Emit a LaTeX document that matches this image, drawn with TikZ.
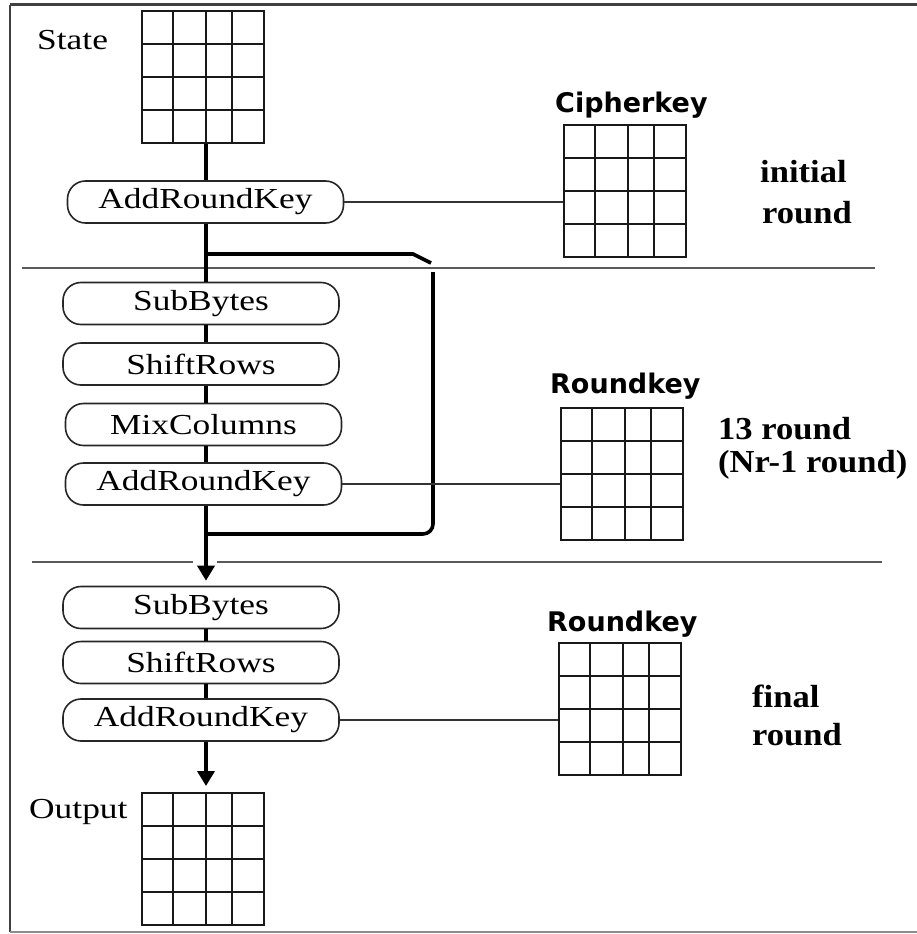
\documentclass[tikz,border=0pt]{standalone}
\usepackage{fontspec}
\usetikzlibrary{calc,arrows.meta}
\newfontfamily\opfont[FakeStretch=1.22]{Liberation Serif}
\newfontfamily\roundfont[FakeStretch=1.08]{Liberation Serif}
\newfontfamily\keyfont{DejaVu Sans}

\tikzset{
  opbox/.style={draw=black!85, line width=1.6pt, rounded corners=18pt,
    minimum width=276pt, minimum height=42pt, inner sep=0pt,
    font=\opfont\fontsize{29pt}{32pt}\selectfont},
  bytegrid/.style={draw=black!90, line width=2pt, minimum width=122pt,
    minimum height=132pt, inner sep=0pt,
    path picture={
      \foreach \f in {0.26,0.525,0.745}{
        \draw[line width=2pt, black!90]
          ($(path picture bounding box.north west)!\f!(path picture bounding box.north east)$) --
          ($(path picture bounding box.south west)!\f!(path picture bounding box.south east)$);
      }
      \foreach \f in {0.25,0.5,0.75}{
        \draw[line width=2pt, black!90]
          ($(path picture bounding box.north west)!\f!(path picture bounding box.south west)$) --
          ($(path picture bounding box.north east)!\f!(path picture bounding box.south east)$);
      }
    }},
  plainlabel/.style={inner sep=0pt, anchor=base west,
    font=\opfont\fontsize{29pt}{32pt}\selectfont},
  keylabel/.style={inner sep=0pt, anchor=base west,
    font=\keyfont\bfseries\fontsize{27pt}{30pt}\selectfont},
  roundlabel/.style={inner sep=0pt, anchor=base west,
    font=\roundfont\bfseries\fontsize{32pt}{36pt}\selectfont},
  flow/.style={line width=3.6pt, black},
  flowarrow/.style={flow, -{Triangle[length=15pt,width=17pt]}},
  backline/.style={line width=3.6pt, black},
  keyline/.style={line width=1.6pt, black!80},
  separator/.style={line width=2.2pt, black!65},
}

\begin{document}
\begin{tikzpicture}[x=1pt,y=-1pt]
\useasboundingbox (0,0) rectangle (917,934);

% outer frame (top, left, bottom)
\draw[line width=3pt, black!75] (10,5) -- (917,5);
\draw[line width=2.5pt, black!75] (10,5) -- (10,932);
\draw[line width=2pt, black!45] (10,932) -- (917,932);

% round separators
\draw[separator] (22,268) -- (875,268);
\draw[separator] (32,562) -- (193,562);
\draw[separator] (217,562) -- (882,562);

% state matrices and key matrices
\node[bytegrid] (state) at (202.5,77) {};
\node[bytegrid] (ck) at (624.5,191) {};
\node[bytegrid] (rk1) at (621.5,473.5) {};
\node[bytegrid] (rk2) at (619.5,709) {};
\node[bytegrid] (out) at (202.5,859) {};

% operation boxes
\node[opbox] (ark0) at (205.5,202) {AddRoundKey};
\node[opbox] (sb1) at (201,303.5) {SubBytes};
\node[opbox] (sr1) at (201,364) {ShiftRows};
\node[opbox] (mc1) at (203.5,424.5) {MixColumns};
\node[opbox] (ark1) at (203.5,484) {AddRoundKey};
\node[opbox] (sb2) at (201,607.5) {SubBytes};
\node[opbox] (sr2) at (201,662.5) {ShiftRows};
\node[opbox] (ark2) at (201,720) {AddRoundKey};

% labels
\node[plainlabel] (lstate) at (37,49) {State};
\node[plainlabel] (lout) at (29,818) {Output};
\node[keylabel] (lck) at (555,112) {Cipherkey};
\node[keylabel] (lrk1) at (550,393) {Roundkey};
\node[keylabel] (lrk2) at (547,631) {Roundkey};
\node[roundlabel] (li1) at (760,182) {initial};
\node[roundlabel] (li2) at (762,223) {round};
\node[roundlabel] (lm1) at (718,439) {13 round};
\node[roundlabel] (lm2) at (718,472) {(Nr-1 round)};
\node[roundlabel] (lf1) at (752,707) {final};
\node[roundlabel] (lf2) at (752,745) {round};

% main data path
\coordinate (spine) at (206,0);
\coordinate (jt) at (206,254);
\coordinate (jb) at (206,534);
\draw[flow] (state.south -| spine) -- (ark0.north -| spine);
\draw[flow] (ark0.south -| spine) -- (jt) -- (sb1.north -| spine);
\draw[flow] (sb1.south -| spine) -- (sr1.north -| spine);
\draw[flow] (sr1.south -| spine) -- (mc1.north -| spine);
\draw[flow] (mc1.south -| spine) -- (ark1.north -| spine);
\draw[flowarrow, shorten >=5pt] (ark1.south -| spine) -- (sb2.north -| spine);
\draw[flow] (sb2.south -| spine) -- (sr2.north -| spine);
\draw[flow] (sr2.south -| spine) -- (ark2.north -| spine);
\draw[flowarrow, shorten >=6pt] (ark2.south -| spine) -- (out.north -| spine);

% repetition loop of the middle rounds
\coordinate (lt) at (413,254);
\coordinate (lc) at (431,263);
\coordinate (lr1) at (433,272);
\coordinate (lr2) at (433,534);
\draw[backline] (jt) -- (lt) -- (lc);
\draw[backline, rounded corners=10pt] (lr1) -- (lr2) -- (jb);

% key inputs
\draw[keyline] (ark0.east) -- (ark0.east -| ck.west);
\draw[keyline] (ark1.east) -- (ark1.east -| rk1.west);
\draw[keyline] (ark2.east) -- (ark2.east -| rk2.west);
\end{tikzpicture}
\end{document}
